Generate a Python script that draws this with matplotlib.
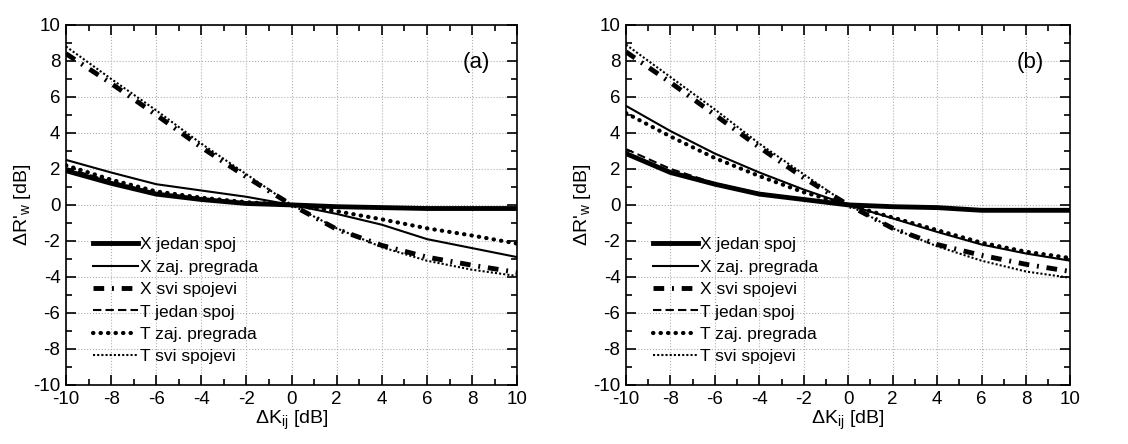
import numpy as np
import matplotlib.pyplot as plt
import matplotlib.ticker as ticker

plt.rcParams['font.family'] = ['Liberation Sans', 'DejaVu Sans']
plt.rcParams['mathtext.fontset'] = 'custom'
plt.rcParams['mathtext.rm'] = 'Liberation Sans'
plt.rcParams['axes.unicode_minus'] = False

dK = [-10, -8, -6, -4, -2, 0, 2, 4, 6, 8, 10]

LABELS = ['X jedan spoj', 'X zaj. pregrada', 'X svi spojevi',
          'T jedan spoj', 'T zaj. pregrada', 'T svi spojevi']

# panel (a)
a_x_jedan = [1.9, 1.2, 0.6, 0.3, 0.08, 0, -0.1, -0.15, -0.2, -0.2, -0.2]
a_x_zaj   = [2.5, 1.8, 1.15, 0.8, 0.45, 0, -0.5, -1.1, -1.9, -2.4, -2.9]
a_x_svi   = [8.4, 6.75, 5.0, 3.2, 1.55, 0, -1.35, -2.25, -2.9, -3.35, -3.75]
a_t_jedan = [2.05, 1.3, 0.65, 0.35, 0.1, 0, -0.1, -0.15, -0.2, -0.2, -0.2]
a_t_zaj   = [2.2, 1.4, 0.75, 0.4, 0.15, 0, -0.35, -0.8, -1.3, -1.7, -2.15]
a_t_svi   = [8.8, 7.0, 5.25, 3.4, 1.7, 0, -1.3, -2.35, -3.1, -3.6, -3.95]

# panel (b)
b_x_jedan = [2.85, 1.8, 1.15, 0.6, 0.3, 0, -0.1, -0.15, -0.3, -0.3, -0.3]
b_x_zaj   = [5.5, 4.1, 2.85, 1.8, 0.85, 0, -0.75, -1.5, -2.2, -2.7, -3.1]
b_x_svi   = [8.5, 6.8, 5.0, 3.2, 1.5, 0, -1.3, -2.2, -2.8, -3.3, -3.7]
b_t_jedan = [3.1, 2.0, 1.2, 0.65, 0.3, 0, -0.1, -0.15, -0.3, -0.3, -0.3]
b_t_zaj   = [5.1, 3.8, 2.6, 1.6, 0.7, 0, -0.7, -1.4, -2.1, -2.6, -2.95]
b_t_svi   = [8.9, 7.1, 5.3, 3.4, 1.7, 0, -1.3, -2.3, -3.1, -3.7, -4.05]

STYLES = [
    dict(color='k', lw=3.5, ls='-'),
    dict(color='k', lw=1.5, ls='-'),
    dict(color='k', lw=3.5, ls=(0, (2.2, 1.6, 0.4, 1.6))),
    dict(color='k', lw=1.5, ls=(0, (4, 2))),
    dict(color='k', lw=3.0, ls=(0, (0.1, 1.7)), dash_capstyle='round'),
    dict(color='k', lw=1.5, ls=(0, (1, 1))),
]

fig = plt.figure(figsize=(11.28, 4.44), dpi=100)
ax_a = fig.add_axes([0.0585, 0.133, 0.400, 0.811])
ax_b = fig.add_axes([0.555, 0.133, 0.394, 0.811])

panels = [
    (ax_a, '(a)', [a_x_jedan, a_x_zaj, a_x_svi, a_t_jedan, a_t_zaj, a_t_svi]),
    (ax_b, '(b)', [b_x_jedan, b_x_zaj, b_x_svi, b_t_jedan, b_t_zaj, b_t_svi]),
]

for ax, tag, series in panels:
    for lab, ys, st in zip(LABELS, series, STYLES):
        ax.plot(dK, ys, label=lab, **st)
    ax.set_xlim(-10, 10)
    ax.set_ylim(-10, 10)
    ax.xaxis.set_major_locator(ticker.MultipleLocator(2))
    ax.yaxis.set_major_locator(ticker.MultipleLocator(2))
    ax.xaxis.set_minor_locator(ticker.MultipleLocator(1))
    ax.yaxis.set_minor_locator(ticker.MultipleLocator(1))
    ax.tick_params(which='both', direction='in', top=True, right=True,
                   labelsize=13.5, width=1.2)
    ax.tick_params(which='major', length=7, pad=4)
    ax.tick_params(which='minor', length=4)
    ax.grid(True, which='major', color='#b0b0b0', ls=':', lw=0.8)
    for s in ax.spines.values():
        s.set_linewidth(1.2)
    ax.set_xlabel(r"ΔK$_{\mathregular{ij}}$ [dB]", fontsize=14, labelpad=1)
    ax.set_ylabel(r"ΔR'$_{\mathregular{w}}$ [dB]", fontsize=14, labelpad=0)
    ax.text(8.2, 7.9, tag, fontsize=16, ha='center', va='center')
    ax.legend(loc='upper left', bbox_to_anchor=(0.045, 0.43), frameon=False,
              fontsize=12.5, handlelength=2.6, handletextpad=0.1,
              labelspacing=0.42, borderaxespad=0)

fig.savefig('out.png', dpi=100)
